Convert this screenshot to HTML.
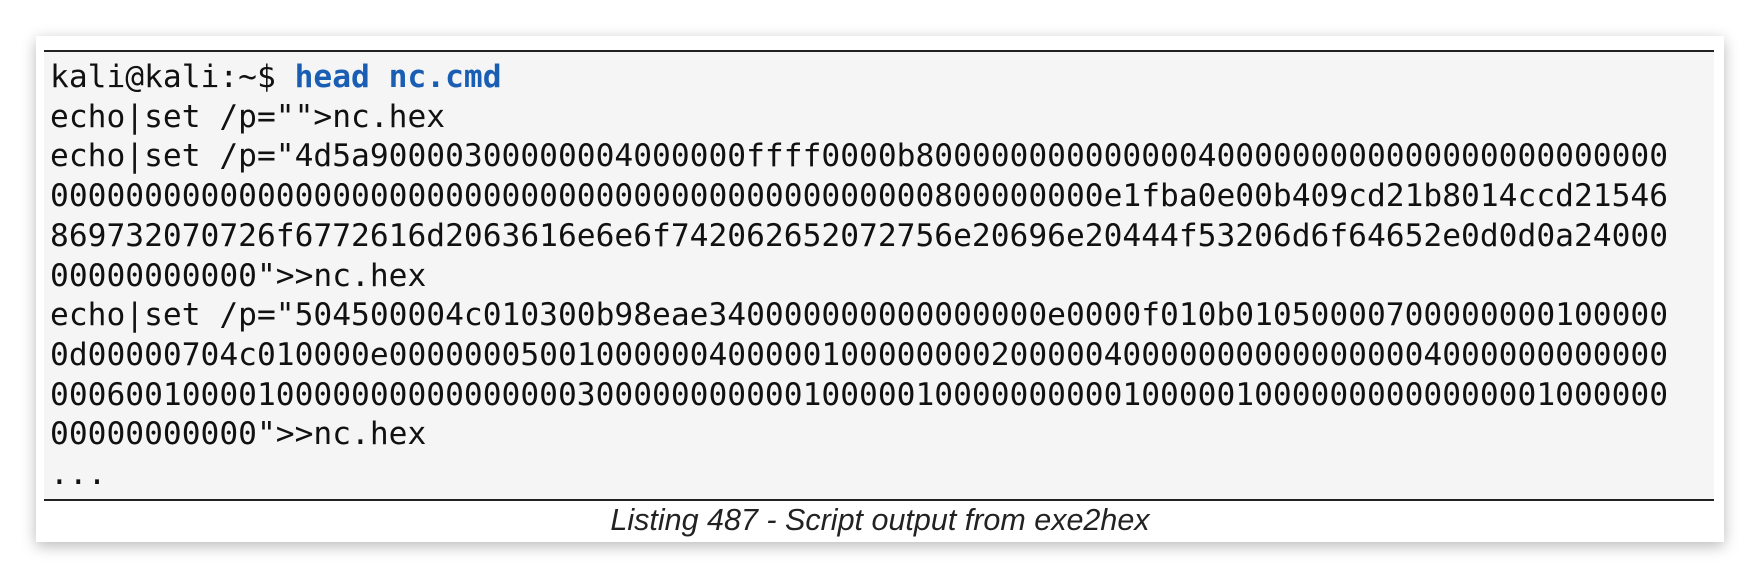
<!DOCTYPE html>
<html><head><meta charset="utf-8"><style>
html,body{margin:0;padding:0;background:#fff;width:1760px;height:578px;overflow:hidden;position:relative}
.card{position:absolute;left:36px;top:36px;width:1688px;height:506px;background:#fff;box-shadow:0 4px 14px rgba(0,0,0,0.28)}
.code{position:absolute;left:44px;top:50px;width:1670px;height:451px;background:#f5f5f5;border-top:2px solid #222;border-bottom:2px solid #222;box-sizing:border-box}
pre{position:absolute;left:50px;top:58px;margin:0;font-family:"DejaVu Sans Mono","Liberation Mono",monospace;font-size:31.25px;line-height:39.7px;color:#111;white-space:pre}
b{color:#1a5eb4}
.cap{position:absolute;left:0;width:1760px;top:503px;text-align:center;font-family:"Liberation Sans",sans-serif;font-style:italic;font-size:30.5px;color:#222}
</style></head><body>
<div class="card"></div>
<div class="code"></div>
<pre>kali@kali:~$ <b>head nc.cmd</b>
echo|set /p="">nc.hex
echo|set /p="4d5a90000300000004000000ffff0000b8000000000000004000000000000000000000000
00000000000000000000000000000000000000000000000800000000e1fba0e00b409cd21b8014ccd21546
869732070726f6772616d2063616e6e6f742062652072756e20696e20444f53206d6f64652e0d0d0a24000
00000000000">>nc.hex
echo|set /p="504500004c010300b98eae340000000000000000e0000f010b01050000700000000100000
0d00000704c010000e00000005001000000400000100000000200000400000000000000004000000000000
00060010000100000000000000003000000000001000001000000000010000010000000000000001000000
00000000000">>nc.hex
...</pre>
<div class="cap">Listing 487 - Script output from exe2hex</div>
</body></html>
